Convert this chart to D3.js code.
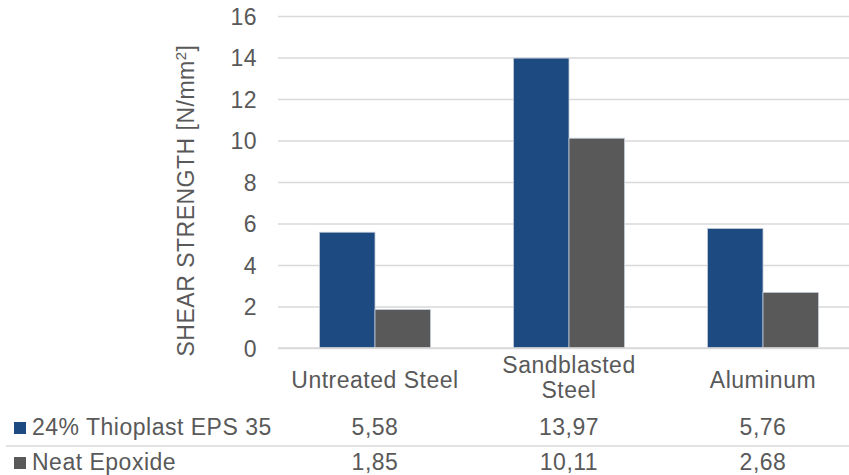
<!DOCTYPE html>
<html>
<head>
<meta charset="utf-8">
<script src="https://cdn.jsdelivr.net/npm/d3@7"></script>
<style>
  html, body { margin: 0; padding: 0; background: #fff; }
  svg { display: block; font-family: "Liberation Sans", Arial, sans-serif; }
  svg text { letter-spacing: 0.5px; }
</style>
</head>
<body>
<svg id="chart" width="849" height="475"></svg>
<script>
// Substrates (categories)
const categories = ["Untreated Steel", "Sandblasted Steel", "Aluminum"];
// Category labels, split into lines
const categoryLines = [["Untreated Steel"], ["Sandblasted", "Steel"], ["Aluminum"]];
// Series
const seriesNames = ["24% Thioplast EPS 35", "Neat Epoxide"];
const thioplastValues = [5.58, 13.97, 5.76];
const epoxideValues = [1.85, 10.11, 2.68];
const seriesColors = ["#1d4a80", "#595959"];
// Y axis ticks
const yTicks = [0, 2, 4, 6, 8, 10, 12, 14, 16];

const seriesValues = [thioplastValues, epoxideValues];
const svg = d3.select("#chart");
const textColor = "#595959";
const gridColor = "#d9d9d9";
const fontSize = 23;

const plotLeft = 278, plotRight = 860, plotTop = 16, plotBottom = 348;

const y = d3.scaleLinear().domain([0, 16]).range([plotBottom, plotTop]);
const x0 = d3.scaleBand().domain(categories).range([plotLeft, plotRight]);
const x1 = d3.scaleBand().domain(seriesNames).range([0, x0.bandwidth()])
  .paddingInner(0).paddingOuter(0.748);

// Gridlines and tick labels
const yAxis = d3.axisLeft(y).tickValues(yTicks).tickSize(0).tickPadding(0);
const yg = svg.append("g").attr("transform", `translate(${plotLeft},0)`).call(yAxis);
yg.select(".domain").remove();
yg.selectAll(".tick text")
  .attr("x", -21)
  .attr("dy", "0.36em")
  .attr("fill", textColor)
  .style("font-size", fontSize + "px")
  .style("font-family", '"Liberation Sans", Arial, sans-serif');
yg.selectAll(".tick line").remove();
yg.selectAll(".tick").append("line")
  .attr("x1", 0).attr("x2", 849 - plotLeft)
  .attr("stroke", gridColor).attr("stroke-width", 1.5);

// Bars
const groups = svg.append("g").selectAll("g")
  .data(categories)
  .join("g")
  .attr("transform", d => `translate(${x0(d)},0)`);

groups.selectAll("rect")
  .data((d, i) => seriesNames.map((s, j) => ({ s, j, v: seriesValues[j][i] })))
  .join("rect")
  .attr("x", d => x1(d.s))
  .attr("width", x1.bandwidth())
  .attr("y", d => y(d.v))
  .attr("height", d => y(0) - y(d.v))
  .attr("fill", d => seriesColors[d.j])
  .attr("stroke", "#c4ccd6")
  .attr("stroke-width", 0.8);

// Baseline
svg.append("line")
  .attr("x1", plotLeft).attr("x2", 849)
  .attr("y1", y(0)).attr("y2", y(0))
  .attr("stroke", gridColor).attr("stroke-width", 1.5);

// Category labels
categories.forEach((c, i) => {
  const lines = categoryLines[i];
  const cx = x0(c) + x0.bandwidth() / 2;
  const baselines = lines.length === 1 ? [388] : [373, 398];
  lines.forEach((ln, k) => {
    svg.append("text")
      .attr("x", cx).attr("y", baselines[k])
      .attr("text-anchor", "middle")
      .attr("fill", textColor)
      .style("font-size", fontSize + "px")
      .text(ln);
  });
});

// Y axis title
const title = svg.append("text")
  .attr("transform", `translate(194,${(40 + 361) / 2}) rotate(-90)`)
  .attr("text-anchor", "middle")
  .attr("fill", textColor)
  .style("font-size", fontSize + "px");
title.append("tspan").text("SHEAR STRENGTH [N/mm");
title.append("tspan").attr("baseline-shift", "super").style("font-size", "15px").text("2");
title.append("tspan").text("]");

// Data table
const rowBaselines = [435, 470];
const fmt = d3.format(".2f");
seriesNames.forEach((s, j) => {
  const by = rowBaselines[j];
  svg.append("rect")
    .attr("x", 14).attr("y", by - 13)
    .attr("width", 12).attr("height", 12)
    .attr("fill", seriesColors[j]);
  svg.append("text")
    .attr("x", 32).attr("y", by)
    .attr("fill", textColor)
    .style("font-size", fontSize + "px")
    .text(s);
  categories.forEach((c, i) => {
    svg.append("text")
      .attr("x", x0(c) + x0.bandwidth() / 2).attr("y", by)
      .attr("text-anchor", "middle")
      .attr("fill", textColor)
      .style("font-size", fontSize + "px")
      .text(fmt(seriesValues[j][i]).replace(".", ","));
  });
});
// Row separator
svg.append("line")
  .attr("x1", 6).attr("x2", 849)
  .attr("y1", 446).attr("y2", 446)
  .attr("stroke", gridColor).attr("stroke-width", 1.5);
</script>
</body>
</html>
